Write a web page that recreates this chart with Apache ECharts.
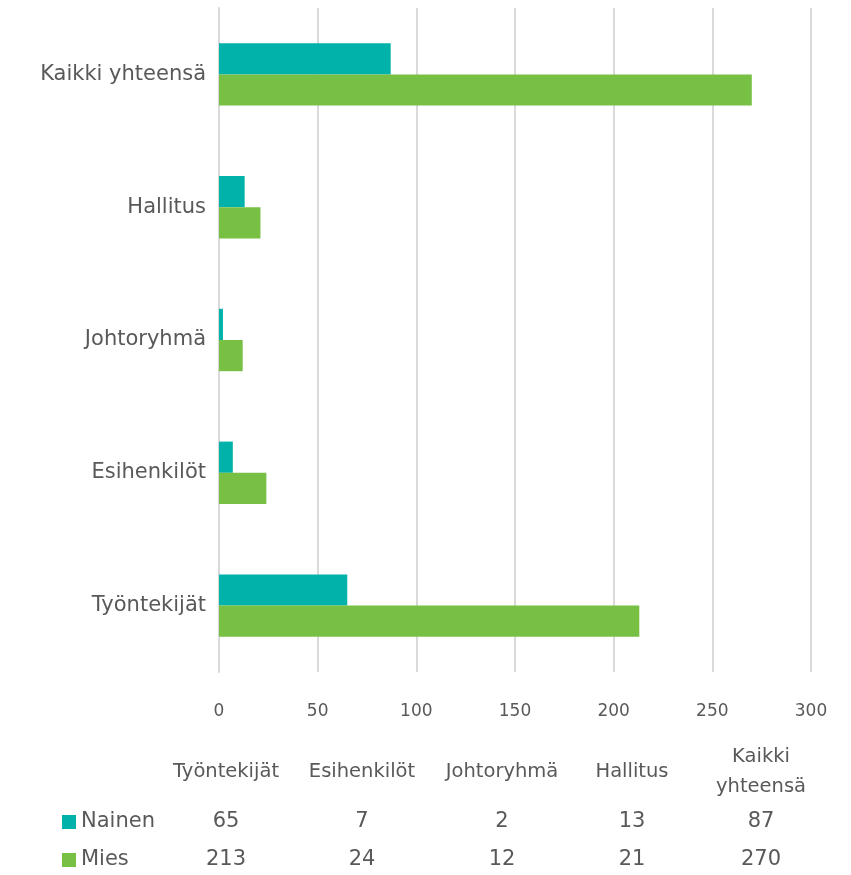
<!DOCTYPE html>
<html><head><meta charset="utf-8">
<script src="https://cdn.jsdelivr.net/npm/echarts@6/dist/echarts.min.js"></script>
<style>html,body{margin:0;padding:0;background:#fff}#c{width:851px;height:875px}</style>
</head><body><div id="c"></div>
<script>
const categories = ['Työntekijät', 'Esihenkilöt', 'Johtoryhmä', 'Hallitus', 'Kaikki yhteensä'];
const tableHeaders = ['Työntekijät', 'Esihenkilöt', 'Johtoryhmä', 'Hallitus', 'Kaikki\nyhteensä'];
const nainen = [65, 7, 2, 13, 87];
const mies = [213, 24, 12, 21, 270];
const seriesNames = ['Nainen', 'Mies'];
const colors = ['#00B2A9', '#77C043'];

const FONT = 'DejaVu Sans';
const TXT = '#595959';
const chart = echarts.init(document.getElementById('c'), null, {renderer: 'canvas'});

const colX = [226, 362, 502, 632, 761];
const graphics = [];
tableHeaders.forEach((h, i) => {
  graphics.push({type: 'text', x: colX[i], y: 772, style: {text: h, font: '19.5px "' + FONT + '"', fill: TXT, align: 'center', verticalAlign: 'middle', lineHeight: 30}});
});
[nainen, mies].forEach((arr, r) => {
  const y = r === 0 ? 822 : 860;
  graphics.push({type: 'rect', shape: {x: 62, y: y - 7, width: 14, height: 14}, style: {fill: colors[r]}});
  graphics.push({type: 'text', x: 81, y: y, style: {text: seriesNames[r], font: '21px "' + FONT + '"', fill: TXT, align: 'left', verticalAlign: 'middle'}});
  arr.forEach((v, i) => {
    graphics.push({type: 'text', x: colX[i], y: y, style: {text: String(v), font: '21px "' + FONT + '"', fill: TXT, align: 'center', verticalAlign: 'middle'}});
  });
});

chart.setOption({
  animation: false,
  textStyle: {fontFamily: FONT},
  grid: {left: 219, right: 40, top: 8, bottom: 203, containLabel: false},
  xAxis: {
    type: 'value', min: 0, max: 300, interval: 50,
    axisLine: {show: false}, axisTick: {show: false},
    axisLabel: {color: TXT, fontSize: 17, margin: 31, fontFamily: FONT},
    splitLine: {show: true, lineStyle: {color: '#D9D9D9', width: 2}}
  },
  yAxis: {
    type: 'category', data: categories,
    axisLine: {show: true, lineStyle: {color: '#D9D9D9', width: 2}},
    axisTick: {show: false},
    axisLabel: {color: TXT, fontSize: 21, margin: 13, fontFamily: FONT}
  },
  series: [
    {name: seriesNames[0], type: 'bar', data: nainen, itemStyle: {color: colors[0]}, barGap: '0%', barCategoryGap: '53%'},
    {name: seriesNames[1], type: 'bar', data: mies, itemStyle: {color: colors[1]}, barGap: '0%', barCategoryGap: '53%'}
  ],
  graphic: graphics
});
</script></body></html>
